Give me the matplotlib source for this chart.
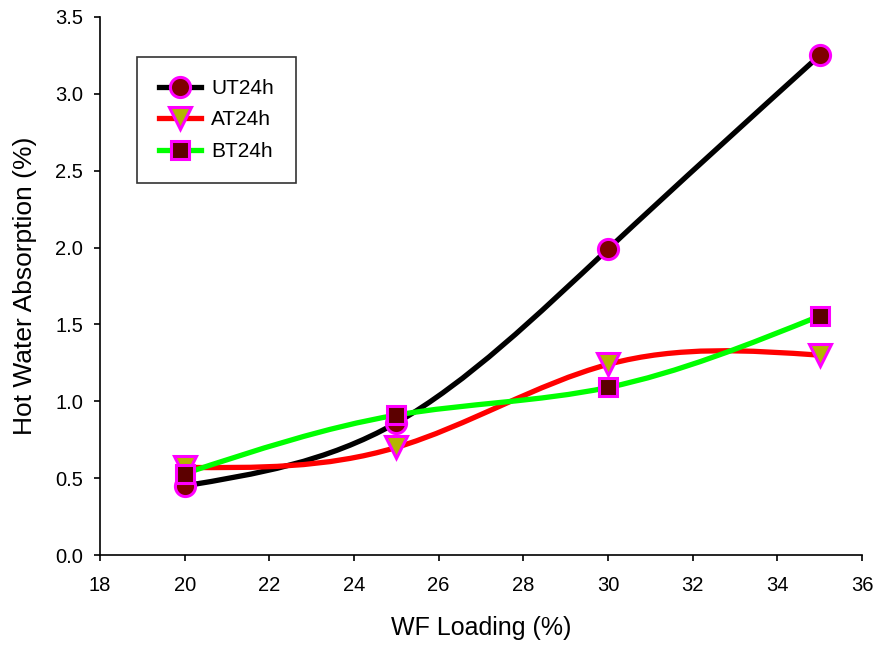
import numpy as np
import matplotlib.pyplot as plt
from matplotlib.path import Path
from matplotlib.patches import PathPatch
from matplotlib.lines import Line2D

plt.rcParams['font.family'] = ['Liberation Sans', 'DejaVu Sans']

# Data
loading = [20, 25, 30, 35]
ut24h = [0.45, 0.86, 1.99, 3.25]
at24h = [0.57, 0.70, 1.24, 1.30]
bt24h = [0.53, 0.91, 1.09, 1.555]
labels = ['UT24h', 'AT24h', 'BT24h']


def spline_path(x, y):
    # natural cubic spline written as cubic Bezier segments
    x = np.asarray(x, float)
    y = np.asarray(y, float)
    n = len(x)
    h = np.diff(x)
    A = np.zeros((n, n))
    b = np.zeros(n)
    A[0, 0] = A[-1, -1] = 1
    for i in range(1, n - 1):
        A[i, i - 1] = h[i - 1]
        A[i, i] = 2 * (h[i - 1] + h[i])
        A[i, i + 1] = h[i]
        b[i] = 6 * ((y[i + 1] - y[i]) / h[i] - (y[i] - y[i - 1]) / h[i - 1])
    M = np.linalg.solve(A, b)
    m = np.zeros(n)
    for i in range(n - 1):
        m[i] = (y[i + 1] - y[i]) / h[i] - h[i] * (2 * M[i] + M[i + 1]) / 6
    m[-1] = (y[-1] - y[-2]) / h[-1] + h[-1] * (M[-2] + 2 * M[-1]) / 6
    verts = [(x[0], y[0])]
    codes = [Path.MOVETO]
    for i in range(n - 1):
        d = h[i] / 3
        verts += [(x[i] + d, y[i] + d * m[i]),
                  (x[i + 1] - d, y[i + 1] - d * m[i + 1]),
                  (x[i + 1], y[i + 1])]
        codes += [Path.CURVE4] * 3
    return Path(verts, codes)


fig = plt.figure(figsize=(8.78, 6.48), dpi=100)
ax = fig.add_axes([0.1139, 0.1435, 0.8679, 0.8303])

series = [ut24h, at24h, bt24h]
line_colors = ['black', 'red', '#00ff00']
markers = ['o', 'v', 's']
face_colors = ['#800000', '#b4b400', '#5c0000']
sizes = [14.5, 16, 13]

handles = []
for ys, lc, mk, fc, ms, lab in zip(series, line_colors, markers, face_colors, sizes, labels):
    ax.add_patch(PathPatch(spline_path(loading, ys), facecolor='none',
                           edgecolor=lc, lw=3.8, zorder=2, capstyle='butt'))
    handles.append(Line2D([], [], color=lc, lw=3.8, marker=mk, markersize=ms,
                          markerfacecolor=fc, markeredgecolor='#ff00ff',
                          markeredgewidth=2.2, label=lab))

for ys, mk, fc, ms in zip(series, markers, face_colors, sizes):
    ax.plot(loading, ys, linestyle='none', marker=mk, markersize=ms,
            markerfacecolor=fc, markeredgecolor='#ff00ff',
            markeredgewidth=2.2, zorder=3)

ax.set_xlim(18, 36)
ax.set_ylim(0, 3.5)
ax.set_xticks(np.arange(18, 37, 2))
ax.set_yticks(np.arange(0, 3.51, 0.5))
ax.set_yticklabels([f'{v:.1f}' for v in np.arange(0, 3.51, 0.5)])
for s in ['top', 'right']:
    ax.spines[s].set_visible(False)
for s in ['left', 'bottom']:
    ax.spines[s].set_linewidth(1.2)
ax.tick_params(direction='out', length=4, width=1.2, labelsize=14.5)
ax.tick_params(axis='x', pad=11)
ax.tick_params(axis='y', pad=8)

ax.set_xlabel('WF Loading (%)', fontsize=18, labelpad=15)
ax.set_ylabel('Hot Water Absorption (%)', fontsize=19, labelpad=13)

leg = ax.legend(handles=handles, loc='upper left', bbox_to_anchor=(0.0486, 0.9257),
                borderaxespad=0, fontsize=15, frameon=True, fancybox=False,
                edgecolor='black', handlelength=2.0, labelspacing=0.6,
                borderpad=1.05, handletextpad=0.5)
leg.get_frame().set_linewidth(1.2)

fig.savefig('out.png', dpi=100)
